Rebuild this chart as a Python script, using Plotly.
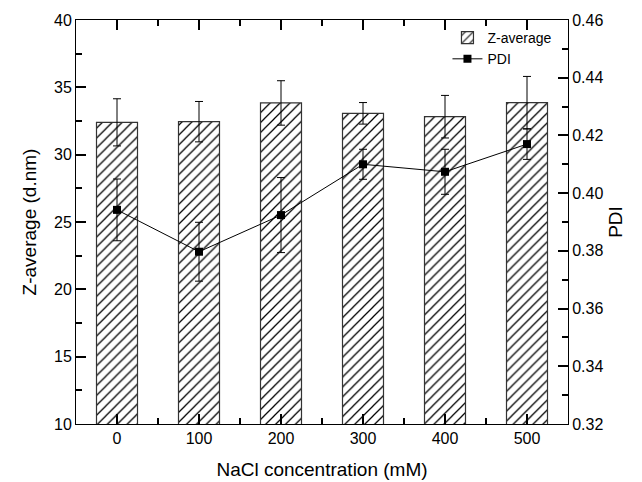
import plotly.graph_objects as go

nacl = [0, 100, 200, 300, 400, 500]
z_avg = [32.4, 32.45, 33.84, 33.07, 32.82, 33.86]
z_err = [1.75, 1.5, 1.65, 0.8, 1.58, 1.95]
pdi = [0.3942, 0.3797, 0.3924, 0.4100, 0.4074, 0.4170]
pdi_err = [0.0107, 0.0102, 0.0130, 0.0052, 0.0078, 0.0053]

font_family = "Liberation Sans, Arial, sans-serif"

fig = go.Figure()
fig.add_trace(go.Bar(
    x=nacl, y=z_avg, width=50, name="Z-average",
    marker=dict(color="white", line=dict(color="#333", width=1.2),
                pattern=dict(shape="/", fgcolor="black", bgcolor="white", fgopacity=1,
                             size=7, solidity=0.18)),
    error_y=dict(type="data", array=z_err, color="black", thickness=1, width=4),
))
fig.add_trace(go.Scatter(
    x=nacl, y=pdi, yaxis="y2", name="PDI", mode="lines+markers",
    line=dict(color="black", width=1),
    marker=dict(symbol="square", size=8, color="black"),
    error_y=dict(type="data", array=pdi_err, color="black", thickness=1, width=4),
))

tickfont = dict(size=16, color="black", family=font_family)
titlefont = dict(size=19, color="black", family=font_family)

fig.update_layout(
    width=642, height=482,
    margin=dict(l=76, r=74, t=20, b=58, autoexpand=False),
    plot_bgcolor="white", paper_bgcolor="white",
    font=dict(family=font_family, color="black"),
    showlegend=True,
    legend=dict(x=0.755, y=0.995, xanchor="left", yanchor="top", bgcolor="rgba(0,0,0,0)",
                font=dict(size=14, color="black", family=font_family), tracegroupgap=0),
    xaxis=dict(range=[-50, 550], tickvals=nacl, showline=True, linecolor="black",
               ticks="inside", tickcolor="black", tickwidth=2, ticklen=10, mirror="ticks",
               showgrid=False, zeroline=False, tickfont=tickfont,
               minor=dict(ticks="inside", dtick=50, tick0=50, ticklen=6, tickcolor="black", tickwidth=2),
               title=dict(text="NaCl concentration (mM)", font=titlefont, standoff=16)),
    yaxis=dict(range=[10, 40], dtick=5, showline=True, linecolor="black",
               ticks="inside", tickcolor="black", tickwidth=2, ticklen=10,
               showgrid=False, zeroline=False, tickfont=tickfont,
               minor=dict(ticks="inside", dtick=2.5, ticklen=6, tickcolor="black", tickwidth=2),
               title=dict(text="Z-average (d.nm)", font=titlefont, standoff=12)),
    yaxis2=dict(range=[0.32, 0.46], dtick=0.02, overlaying="y", side="right", tickformat=".2f",
                showline=True, linecolor="black",
                ticks="inside", tickcolor="black", tickwidth=2, ticklen=10,
                showgrid=False, zeroline=False, tickfont=tickfont,
                minor=dict(ticks="inside", dtick=0.01, ticklen=6, tickcolor="black", tickwidth=2),
                title=dict(text="PDI", font=titlefont, standoff=6)),
)

fig.write_html("out.html")
